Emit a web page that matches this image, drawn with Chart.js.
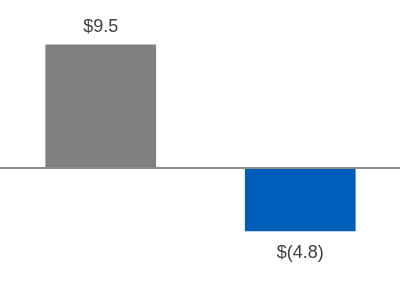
<!DOCTYPE html>
<html>
<head>
<meta charset="utf-8">
<script src="https://cdn.jsdelivr.net/npm/chart.js"></script>
<style>
  html, body { margin: 0; padding: 0; background: #ffffff; }
  #wrap { width: 400px; height: 300px; }
</style>
</head>
<body>
<div id="wrap"><canvas id="chart"></canvas></div>
<script>
const categories = ['A', 'B'];
const values = [9.5, -4.8];
const barColors = ['#808080', '#005cb9'];

// "$9.5" for positives, "$(4.8)" for negatives
function money(v) {
    return v < 0 ? '$(' + Math.abs(v).toFixed(1) + ')' : '$' + v.toFixed(1);
}

// horizontal line at zero across the whole width
const zeroLine = {
    id: 'zeroLine',
    afterDatasetsDraw(chart) {
        const ctx = chart.ctx;
        const y = Math.floor(chart.scales.y.getPixelForValue(0));
        ctx.save();
        ctx.strokeStyle = '#8c8c8c';
        ctx.lineWidth = 2;
        ctx.beginPath();
        ctx.moveTo(0, y);
        ctx.lineTo(chart.width, y);
        ctx.stroke();
        ctx.restore();
    }
};

// value labels above / below each bar
const valueLabels = {
    id: 'valueLabels',
    afterDatasetsDraw(chart) {
        const ctx = chart.ctx;
        const meta = chart.getDatasetMeta(0);
        ctx.save();
        ctx.font = '18px "Liberation Sans", Arial, sans-serif';
        ctx.fillStyle = '#404040';
        ctx.textAlign = 'center';
        ctx.textBaseline = 'alphabetic';
        meta.data.forEach((bar, i) => {
            const v = values[i];
            const y = v >= 0 ? bar.y - 12 : bar.y + 27;
            ctx.fillText(money(v), bar.x, y);
        });
        ctx.restore();
    }
};

new Chart(document.getElementById('chart'), {
    type: 'bar',
    data: {
        labels: categories,
        datasets: [{
            data: values,
            backgroundColor: barColors,
            borderWidth: 0,
            barPercentage: 0.555,
            categoryPercentage: 1.0
        }]
    },
    options: {
        responsive: true,
        maintainAspectRatio: false,
        animation: false,
        layout: { padding: { left: 1, right: 0, top: 0, bottom: 0 } },
        plugins: {
            legend: { display: false },
            tooltip: { enabled: false }
        },
        scales: {
            x: { display: false },
            y: { display: false, min: -10.05, max: 12.9 }
        }
    },
    plugins: [zeroLine, valueLabels]
});
</script>
</body>
</html>
